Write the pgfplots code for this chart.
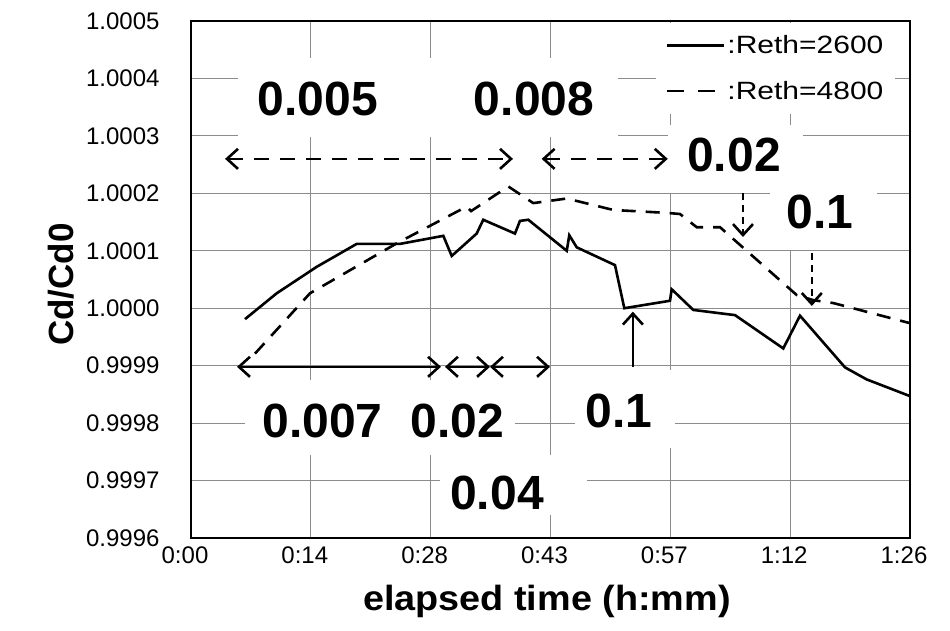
\documentclass[border=0pt]{standalone}
\usepackage{fontspec}
\setmainfont{Liberation Sans}
\newfontfamily\tickfont{Liberation Sans}
\newfontfamily\legfont[FakeStretch=1.2]{Liberation Sans}
\newfontfamily\axfont[FakeStretch=1.08]{Liberation Sans}
\usepackage{pgfplots}
\pgfplotsset{compat=1.18}
\usetikzlibrary{arrows.meta}
\newcommand\biglab{\fontsize{48bp}{50bp}\selectfont\bfseries}
\tikzset{
  barbs/.style={arrows={Straight Barb[length=11bp,width=20bp,line width=2.6bp]-Straight Barb[length=11bp,width=20bp,line width=2.6bp]}},
  barb/.style={arrows={-Straight Barb[length=11bp,width=20bp,line width=2.6bp]}},
  ann/.style={line width=2.6bp, black},
  anndash/.style={line width=2.6bp, black, dash pattern=on 15bp off 11bp},
  wbox/.style={fill=white, draw=none}
}
\begin{document}
\begin{tikzpicture}
\useasboundingbox (0,0) rectangle (950bp,631bp);
\begin{axis}[
  at={(191bp,93bp)}, anchor=south west,
  width=719bp, height=517bp, scale only axis,
  xmin=0, xmax=86.4, ymin=-4, ymax=5,
  xtick={0,14.4,28.8,43.2,57.6,72,86.4},
  xticklabels={0:00,0:14,0:28,0:43,0:57,1:12,1:26},
  ytick={-4,-3,-2,-1,0,1,2,3,4,5},
  yticklabels={0.9996,0.9997,0.9998,0.9999,1.0000,1.0001,1.0002,1.0003,1.0004,1.0005},
  grid=major, major grid style={draw=black!45, line width=0.8bp},
  major tick length=0pt,
  axis line style={line width=2.6bp},
  xticklabel style={font=\fontsize{24bp}{26bp}\tickfont, anchor=north, yshift=-5bp, xshift=-6bp},
  yticklabel style={font=\fontsize{24bp}{26bp}\tickfont, anchor=east, xshift=-28bp},
  xlabel={elapsed time (h:mm)},
  ylabel={Cd/Cd0},
  xlabel style={font=\fontsize{35bp}{37bp}\axfont\bfseries, at={(axis description cs:0.495,-0.122)}, anchor=center},
  ylabel style={font=\fontsize{35bp}{37bp}\tickfont\bfseries, at={(axis description cs:-0.180,0.49)}, anchor=center},
  legend style={at={(axis description cs:0.980,0.997)}, anchor=north east,
    draw=none, fill=white, font=\fontsize{25bp}{27bp}\legfont,
    row sep=22bp, inner xsep=10bp, inner ysep=11bp,
    nodes={inner sep=2bp}},
  legend cell align=left,
  legend image code/.code={\draw[#1] (0bp,0bp) -- (57bp,0bp);},
]
% white text boxes
\fill[wbox] (axis cs:5.65,4.36) rectangle (axis cs:51.31,2.98);
\fill[wbox] (axis cs:57.32,3.19) rectangle (axis cs:73.54,2.0);
\fill[wbox] (axis cs:69.57,2.0) rectangle (axis cs:82.43,1.01);
\fill[wbox] (axis cs:6.49,-1.25) rectangle (axis cs:38.93,-2.56);
\fill[wbox] (axis cs:29.92,-2.56) rectangle (axis cs:47.59,-3.60);
\fill[wbox] (axis cs:46.15,-1.08) rectangle (axis cs:58.16,-2.43);

\addplot[black, line width=2.6bp] coordinates {
(6.49,-0.19)(10.30,0.26)(15.10,0.72)(19.91,1.12)(25.11,1.12)(30.32,1.26)
(31.33,0.91)(34.33,1.30)(35.12,1.54)(38.93,1.30)(39.53,1.52)(40.53,1.54)
(45.15,1.00)(45.46,1.27)(46.35,1.06)(50.95,0.75)(52.07,0.00)(57.56,0.13)
(57.76,0.33)(60.36,-0.03)(65.37,-0.12)(71.17,-0.70)(73.18,-0.13)(78.59,-1.03)
(81.20,-1.24)(86.40,-1.53)};
\addlegendentry{:Reth=2600}
\addplot[black, line width=2.6bp, dash pattern=on 14bp off 10bp, forget plot] coordinates {
(7.69,-0.79)(14.30,0.26)(24.72,1.13)(33.13,1.77)(33.65,1.69)(38.13,2.12)
(41.13,1.83)(45.15,1.91)(50.76,1.71)(57.16,1.66)(58.76,1.64)(60.77,1.41)
(63.57,1.41)(72.78,0.23)(74.78,0.14)(77.18,0.09)(86.40,-0.26)};
\addlegendimage{black, line width=2.6bp, dash pattern=on 17bp off 14bp}
\addlegendentry{:Reth=4800}

% annotation arrows
\draw[anndash, barbs] (axis cs:4.09,2.60) -- (axis cs:38.69,2.60);
\draw[anndash, barbs] (axis cs:42.14,2.60) -- (axis cs:57.29,2.60);
\draw[ann, barbs] (axis cs:5.53,-1.02) -- (axis cs:30.04,-1.02);
\draw[ann, barbs] (axis cs:30.52,-1.02) -- (axis cs:35.93,-1.02);
\draw[ann, barbs] (axis cs:35.93,-1.02) -- (axis cs:43.14,-1.02);
\draw[ann, barb] (axis cs:53.1,-1.03) -- (axis cs:53.1,-0.06);
\draw[ann, barb, dash pattern=on 7bp off 5bp] (axis cs:66.33,2.0) -- (axis cs:66.33,1.24);
\draw[ann, barb, dash pattern=on 7bp off 5bp] (axis cs:74.6,0.96) -- (axis cs:74.6,0.04);

% labels
\node[font=\biglab] at (axis cs:15.26,3.64) {0.005};
\node[font=\biglab] at (axis cs:41.22,3.64) {0.008};
\node[font=\biglab] at (axis cs:65.25,2.66) {0.02};
\node[font=\biglab] at (axis cs:75.58,1.67) {0.1};
\node[font=\biglab] at (axis cs:15.80,-1.97) {0.007};
\node[font=\biglab] at (axis cs:32.02,-1.97) {0.02};
\node[font=\biglab] at (axis cs:36.77,-3.21) {0.04};
\node[font=\biglab] at (axis cs:51.43,-1.79) {0.1};
\end{axis}
\end{tikzpicture}
\end{document}
